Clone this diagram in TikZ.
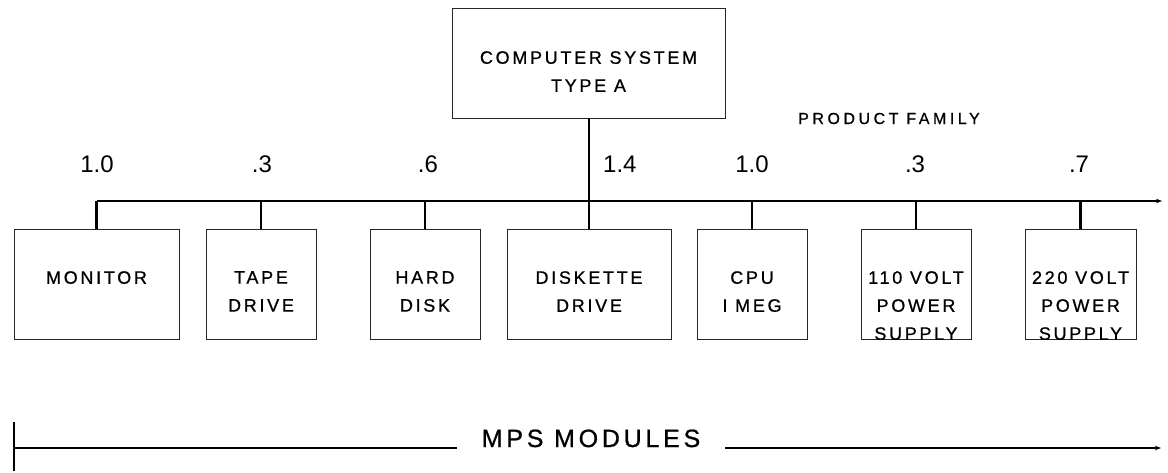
\documentclass[tikz,border=0pt]{standalone}
\usepackage{fontspec}
\setmainfont{Liberation Sans}
\newfontfamily\trackedfont[LetterSpace=15,FakeBold=0.8]{Liberation Sans}
\newfontfamily\widefont[LetterSpace=22,FakeBold=0.8]{Liberation Sans}
\usetikzlibrary{arrows.meta}

\begin{document}
\begin{tikzpicture}[x=1pt,y=-1pt,
  modbox/.style={draw=black!85, line width=0.9pt, inner sep=0pt},
  lbl/.style={font=\trackedfont\fontsize{18}{28}\selectfont, align=center, inner sep=0pt, anchor=north},
  wt/.style={font=\fontsize{24}{28}\selectfont, inner sep=0pt, anchor=base},
  bus/.style={line width=2.1pt},
  tip/.style={-{Stealth[length=6pt,width=4.5pt]}}
]
\useasboundingbox (0,0) rectangle (1168,472);

% top-level product
\node[modbox, minimum width=273, minimum height=110] (sys) at (588.5,63) {};
\node[lbl] (sys-t) at (588.5,51) {COMPUTER SYSTEM\\TYPE A};
\node[anchor=base, inner sep=0pt, font=\widefont\fontsize{16}{18}\selectfont] (pf) at (889,124) {PRODUCT FAMILY};

% module boxes
\node[modbox, minimum width=165, minimum height=110] (monitor) at (96.5,284) {};
\node[modbox, minimum width=110, minimum height=110] (tape)    at (261,284) {};
\node[modbox, minimum width=110, minimum height=110] (hard)    at (425,284) {};
\node[modbox, minimum width=164, minimum height=110] (disk)    at (589,284) {};
\node[modbox, minimum width=110, minimum height=110] (cpu)     at (752,284) {};
\node[modbox, minimum width=110, minimum height=110] (ps110)   at (916,284) {};
\node[modbox, minimum width=111, minimum height=110] (ps220)   at (1080.5,284) {};

\node[lbl] (monitor-t) at (96.5,271) {MONITOR};
\node[lbl] (tape-t)    at (261,271) {TAPE\\DRIVE};
\node[lbl] (hard-t)    at (425,271) {HARD\\DISK};
\node[lbl] (disk-t)    at (589,271) {DISKETTE\\DRIVE};
\node[lbl] (cpu-t)     at (752,271) {CPU\\I MEG};
\node[lbl] (ps110-t)   at (916,271) {110 VOLT\\POWER\\SUPPLY};
\node[lbl] (ps220-t)   at (1080.5,271) {220 VOLT\\POWER\\SUPPLY};

% quantities per module
\node[wt] (q1) at (97,172) {1.0};
\node[wt] (q2) at (262,172) {.3};
\node[wt] (q3) at (428,172) {.6};
\node[wt, anchor=base west] (q4) at (603,172) {1.4};
\node[wt] (q5) at (752,172) {1.0};
\node[wt] (q6) at (915,172) {.3};
\node[wt] (q7) at (1079,172) {.7};

% bus
\coordinate (busL) at (96.5,201);
\coordinate (busR) at (1162,201);
\draw[bus, tip] (busL) -- (busR);
\draw[bus] (busL) -- (monitor.north);
\draw[bus] (tape.north |- busL) -- (tape.north);
\draw[bus] (hard.north |- busL) -- (hard.north);
\draw[bus] (sys.south -| disk.north) -- (disk.north);
\draw[bus] (cpu.north |- busL) -- (cpu.north);
\draw[bus] (ps110.north |- busL) -- (ps110.north);
\draw[bus] (ps220.north |- busL) -- (ps220.north);

% module range
\coordinate (tickT) at (14,422);
\coordinate (tickB) at (14,471);
\coordinate (mpsL) at (14,448);
\coordinate (mpsR) at (1161,448);
\node[anchor=base, inner ysep=0pt, inner xsep=25pt, font=\trackedfont\fontsize{25}{30}\selectfont] (mps) at (591,447) {MPS MODULES};
\draw[bus] (tickT) -- (tickB);
\draw[bus] (mpsL) -- (mps.west |- mpsL);
\draw[bus, tip] (mps.east |- mpsL) -- (mpsR);
\end{tikzpicture}
\end{document}
